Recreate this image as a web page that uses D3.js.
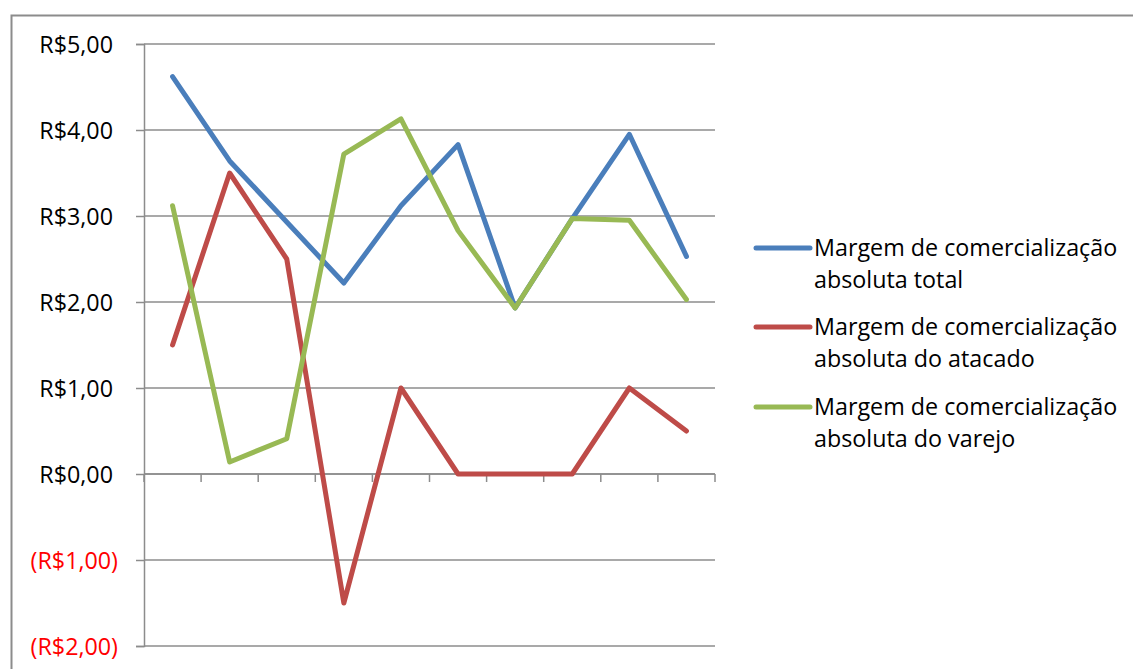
<!DOCTYPE html>
<html>
<head>
<meta charset="utf-8">
<script src="https://cdn.jsdelivr.net/npm/d3@7"></script>
<style>
  html, body { margin: 0; padding: 0; background: #fff; }
  svg { display: block; }
  text { font-family: "Open Sans", "Noto Sans", sans-serif; }
</style>
</head>
<body>
<svg id="chart" width="1133" height="669"></svg>
<script>
// Ten periods, unlabeled on the category axis
const categories = [1, 2, 3, 4, 5, 6, 7, 8, 9, 10];

const seriesNames = [
  ["Margem de comercialização", "absoluta total"],
  ["Margem de comercialização", "absoluta do atacado"],
  ["Margem de comercialização", "absoluta do varejo"]
];
const totalValues   = [4.62, 3.64, 2.93, 2.22, 3.12, 3.83, 1.93, 2.97, 3.95, 2.53];
const atacadoValues = [1.50, 3.50, 2.50, -1.50, 1.00, 0.00, 0.00, 0.00, 1.00, 0.50];
const varejoValues  = [3.12, 0.14, 0.41, 3.72, 4.13, 2.83, 1.93, 2.97, 2.95, 2.03];
const seriesColors  = ["#4A7EBB", "#BE4B48", "#98B954"];

const yTicks = [-2, -1, 0, 1, 2, 3, 4, 5];

const FONT_SIZE = 23.3;
const LINE_WIDTH = 5;

const svg = d3.select("#chart");

// outer chart frame
svg.append("rect")
  .attr("x", 11.5).attr("y", 15.5)
  .attr("width", 1140).attr("height", 700)
  .attr("fill", "none").attr("stroke", "#8c8c8c").attr("stroke-width", 2);

const plot = { left: 144, right: 715, top: 44, bottom: 646 };

const x = d3.scaleBand().domain(categories).range([plot.left, plot.right]);
const y = d3.scaleLinear().domain([-2, 5]).range([plot.bottom, plot.top]);

const fmt = v => {
  const s = "R$" + d3.format(".2f")(Math.abs(v)).replace(".", ",");
  return v < 0 ? "(" + s + ")" : s;
};

// horizontal gridlines
svg.append("g").selectAll("line").data(yTicks).join("line")
  .attr("x1", plot.left).attr("x2", plot.right)
  .attr("y1", d => y(d)).attr("y2", d => y(d))
  .attr("stroke", "#8c8c8c").attr("stroke-width", 1.5);

// value axis with outward ticks
const yAxis = svg.append("g")
  .attr("transform", `translate(${plot.left},0)`)
  .call(d3.axisLeft(y).tickValues(yTicks).tickSize(8).tickPadding(0).tickFormat(fmt));
yAxis.attr("font-family", null).attr("font-size", null);
yAxis.select(".domain").attr("stroke", "#8c8c8c").attr("stroke-width", 1.5);
yAxis.selectAll(".tick line").attr("stroke", "#8c8c8c").attr("stroke-width", 1.5);
yAxis.selectAll(".tick text")
  .attr("x", d => d < 0 ? -26 : -31)
  .attr("dy", "0.35em")
  .attr("font-size", FONT_SIZE)
  .attr("fill", d => d < 0 ? "#ff0000" : "#000");

// category axis along zero with downward ticks at band edges
const xAxis = svg.append("g")
  .attr("transform", `translate(0,${y(0)})`);
xAxis.append("line")
  .attr("x1", plot.left).attr("x2", plot.right)
  .attr("stroke", "#8c8c8c").attr("stroke-width", 1.5);
const edges = categories.map(c => x(c)).concat([plot.right]);
xAxis.selectAll("line.tick").data(edges).join("line")
  .attr("class", "tick")
  .attr("x1", d => d).attr("x2", d => d)
  .attr("y1", 0).attr("y2", 8)
  .attr("stroke", "#8c8c8c").attr("stroke-width", 1.5);

// series lines
const allSeries = [totalValues, atacadoValues, varejoValues];
const line = d3.line()
  .x((d, i) => x(categories[i]) + x.bandwidth() / 2)
  .y(d => y(d));

allSeries.forEach((vals, k) => {
  svg.append("path")
    .datum(vals)
    .attr("d", line)
    .attr("fill", "none")
    .attr("stroke", seriesColors[k])
    .attr("stroke-width", LINE_WIDTH)
    .attr("stroke-linejoin", "round")
    .attr("stroke-linecap", "round");
});

// legend
const legend = svg.append("g");
const legendTop = [248, 327, 407];
seriesNames.forEach((lines, k) => {
  const g = legend.append("g").attr("transform", `translate(0,${legendTop[k]})`);
  g.append("line")
    .attr("x1", 756).attr("x2", 810)
    .attr("stroke", seriesColors[k]).attr("stroke-width", LINE_WIDTH)
    .attr("stroke-linecap", "round");
  lines.forEach((t, j) => {
    g.append("text")
      .attr("x", 814).attr("y", j * 32)
      .attr("dy", "0.35em")
      .attr("font-size", FONT_SIZE)
      .attr("fill", "#000")
      .text(t);
  });
});
</script>
</body>
</html>
